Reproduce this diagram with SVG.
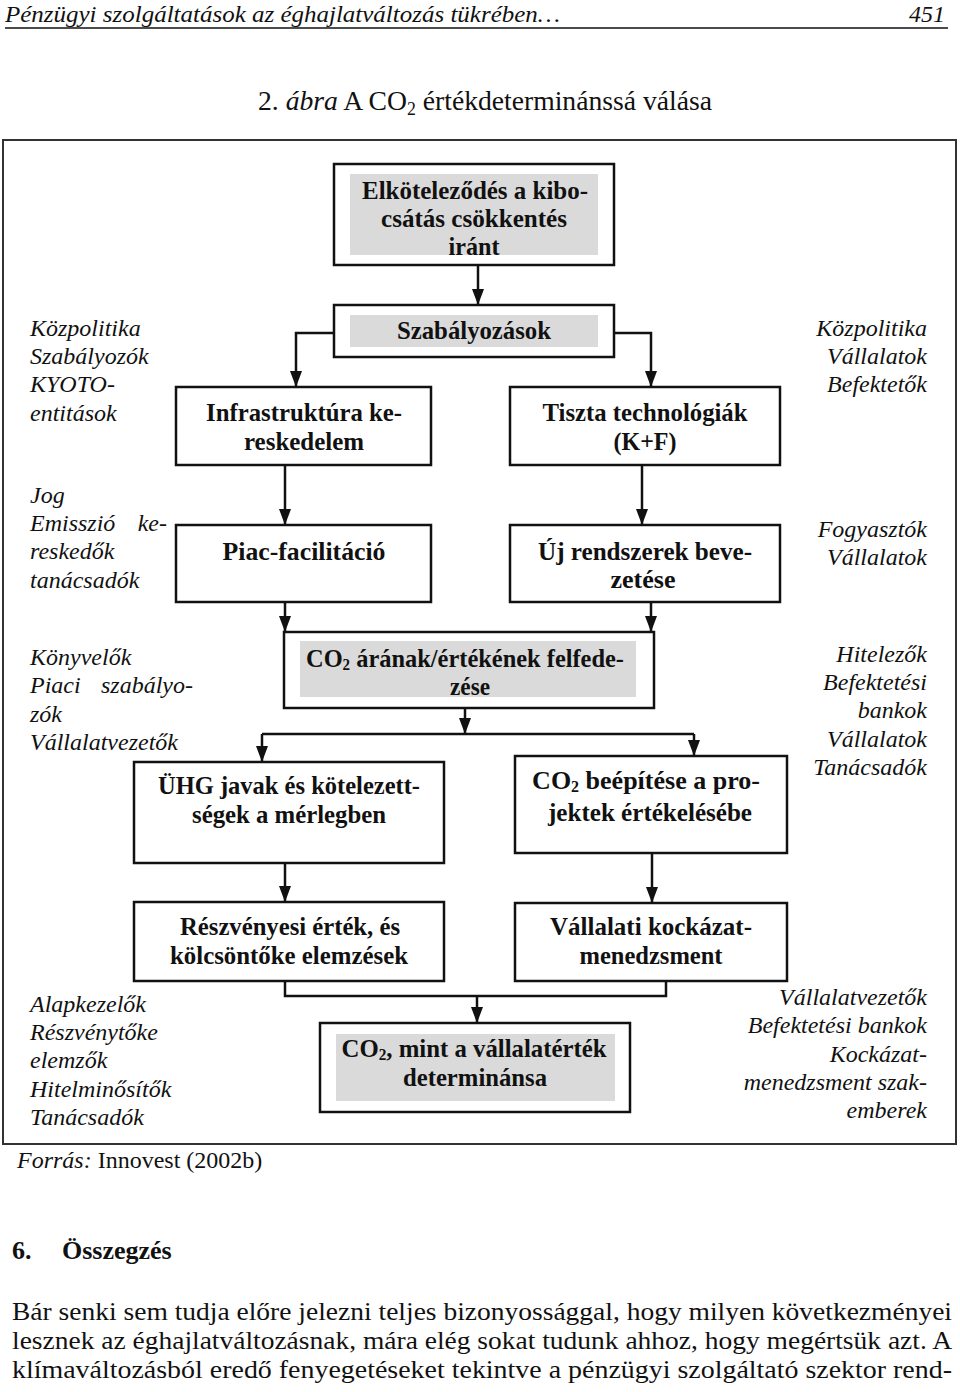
<svg xmlns="http://www.w3.org/2000/svg" width="960" height="1392" viewBox="0 0 960 1392">
<style>
.page{font-family:"Liberation Serif","Times New Roman",serif;fill:#111}
.box{fill:#fff;stroke:#111;stroke-width:2.5}
.gray{fill:#dadada;stroke:none}
.bt{font-family:"Liberation Serif","Times New Roman",serif;font-weight:bold;font-size:26px;fill:#111;text-anchor:middle}
.side{font-family:"Liberation Serif","Times New Roman",serif;font-style:italic;font-size:24px;fill:#111}
.r{text-anchor:end}
.con{fill:none;stroke:#111;stroke-width:2.5}
.sub{font-size:16px}
</style>
<defs>
<marker id="ah" viewBox="0 0 16 12" markerWidth="16" markerHeight="12" refX="16" refY="6" orient="auto" markerUnits="userSpaceOnUse">
<path d="M0,0 L16,6 L0,12 z" fill="#111"/>
</marker>
</defs>
<rect width="960" height="1392" fill="#fff"/>
<g id="header" class="page">
<text x="5" y="22" font-style="italic" font-size="24" textLength="555" lengthAdjust="spacingAndGlyphs">Pénzügyi szolgáltatások az éghajlatváltozás tükrében…</text>
<text x="945" y="22" font-style="italic" font-size="24" text-anchor="end" textLength="36" lengthAdjust="spacingAndGlyphs">451</text>
<line x1="5" y1="28" x2="948" y2="28" stroke="#111" stroke-width="1.5"/>
<text x="258" y="110" font-size="28" textLength="454" lengthAdjust="spacingAndGlyphs">2. <tspan font-style="italic">ábra</tspan> A CO<tspan font-size="18" dy="5">2</tspan><tspan dy="-5"> értékdeterminánssá válása</tspan></text>
</g>
<rect id="frame" x="3" y="140" width="953" height="1004" fill="none" stroke="#333" stroke-width="2"/>
<g id="connectors">
<path class="con" d="M478,265 V305" marker-end="url(#ah)"/>
<path class="con" d="M334,333 H296 V387" marker-end="url(#ah)"/>
<path class="con" d="M614,333 H651 V387" marker-end="url(#ah)"/>
<path class="con" d="M285,465 V525" marker-end="url(#ah)"/>
<path class="con" d="M642,465 V525" marker-end="url(#ah)"/>
<path class="con" d="M285,602 V632" marker-end="url(#ah)"/>
<path class="con" d="M651,602 V632" marker-end="url(#ah)"/>
<path class="con" d="M465,708 V734" marker-end="url(#ah)"/>
<path class="con" d="M262,734 H694"/>
<path class="con" d="M262,734 V762" marker-end="url(#ah)"/>
<path class="con" d="M694,734 V756" marker-end="url(#ah)"/>
<path class="con" d="M285,863 V902" marker-end="url(#ah)"/>
<path class="con" d="M652,853 V903" marker-end="url(#ah)"/>
<path class="con" d="M285,981 V996 H666 V981"/>
<path class="con" d="M477,996 V1023" marker-end="url(#ah)"/>
</g>
<g id="n-elkotelezodes">
<rect class="box" x="334" y="164" width="280" height="101"/>
<rect class="gray" x="350" y="174" width="248" height="81"/>
<text class="bt" x="475" y="199" textLength="226" lengthAdjust="spacingAndGlyphs">Elköteleződés a kibo-</text>
<text class="bt" x="474" y="227" textLength="186" lengthAdjust="spacingAndGlyphs">csátás csökkentés</text>
<text class="bt" x="474" y="255" textLength="51" lengthAdjust="spacingAndGlyphs">iránt</text>
</g>
<g id="n-szabalyozasok">
<rect class="box" x="334" y="305" width="280" height="52"/>
<rect class="gray" x="350" y="315" width="248" height="32"/>
<text class="bt" x="474" y="339" textLength="154" lengthAdjust="spacingAndGlyphs">Szabályozások</text>
</g>
<g id="n-infra">
<rect class="box" x="176" y="387" width="255" height="78"/>
<text class="bt" x="304" y="421" textLength="196" lengthAdjust="spacingAndGlyphs">Infrastruktúra ke-</text>
<text class="bt" x="304" y="450" textLength="120" lengthAdjust="spacingAndGlyphs">reskedelem</text>
</g>
<g id="n-tiszta">
<rect class="box" x="510" y="387" width="270" height="78"/>
<text class="bt" x="645" y="421" textLength="205" lengthAdjust="spacingAndGlyphs">Tiszta technológiák</text>
<text class="bt" x="645" y="450" textLength="63" lengthAdjust="spacingAndGlyphs">(K+F)</text>
</g>
<g id="n-piac">
<rect class="box" x="176" y="525" width="255" height="77"/>
<text class="bt" x="304" y="560" textLength="163" lengthAdjust="spacingAndGlyphs">Piac-facilitáció</text>
</g>
<g id="n-uj">
<rect class="box" x="510" y="525" width="270" height="77"/>
<text class="bt" x="645" y="560" textLength="214" lengthAdjust="spacingAndGlyphs">Új rendszerek beve-</text>
<text class="bt" x="643" y="588" textLength="65" lengthAdjust="spacingAndGlyphs">zetése</text>
</g>
<g id="n-co2ar">
<rect class="box" x="284" y="632" width="370" height="76"/>
<rect class="gray" x="300" y="641" width="336" height="56"/>
<text class="bt" x="465" y="667" textLength="318" lengthAdjust="spacingAndGlyphs">CO<tspan class="sub" dy="3">2</tspan><tspan dy="-3"> árának/értékének felfede-</tspan></text>
<text class="bt" x="470" y="695" textLength="40" lengthAdjust="spacingAndGlyphs">zése</text>
</g>
<g id="n-uhg">
<rect class="box" x="134" y="762" width="310" height="101"/>
<text class="bt" x="289" y="794" textLength="262" lengthAdjust="spacingAndGlyphs">ÜHG javak és kötelezett-</text>
<text class="bt" x="289" y="823" textLength="194" lengthAdjust="spacingAndGlyphs">ségek a mérlegben</text>
</g>
<g id="n-co2be">
<rect class="box" x="515" y="756" width="272" height="97"/>
<text class="bt" x="646" y="789" font-size="24.5">CO<tspan class="sub" dy="3">2</tspan><tspan dy="-3"> beépítése a pro-</tspan></text>
<text class="bt" x="650" y="821" textLength="204" lengthAdjust="spacingAndGlyphs">jektek értékelésébe</text>
</g>
<g id="n-reszv">
<rect class="box" x="134" y="902" width="310" height="79"/>
<text class="bt" x="290" y="935" textLength="220" lengthAdjust="spacingAndGlyphs">Részvényesi érték, és</text>
<text class="bt" x="289" y="964" textLength="238" lengthAdjust="spacingAndGlyphs">kölcsöntőke elemzések</text>
</g>
<g id="n-vall">
<rect class="box" x="515" y="903" width="272" height="78"/>
<text class="bt" x="651" y="935" textLength="202" lengthAdjust="spacingAndGlyphs">Vállalati kockázat-</text>
<text class="bt" x="651" y="964" textLength="143" lengthAdjust="spacingAndGlyphs">menedzsment</text>
</g>
<g id="n-co2mint">
<rect class="box" x="320" y="1023" width="310" height="89"/>
<rect class="gray" x="336" y="1034" width="279" height="67"/>
<text class="bt" x="474" y="1057" textLength="265" lengthAdjust="spacingAndGlyphs">CO<tspan class="sub" dy="3">2</tspan><tspan dy="-3">, mint a vállalatérték</tspan></text>
<text class="bt" x="475" y="1086" textLength="144" lengthAdjust="spacingAndGlyphs">determinánsa</text>
</g>
<g id="left-labels">
<text class="side" x="30" y="336">Közpolitika</text>
<text class="side" x="30" y="364">Szabályozók</text>
<text class="side" x="30" y="392">KYOTO-</text>
<text class="side" x="30" y="421">entitások</text>
<text class="side" x="30" y="503">Jog</text>
<text class="side" x="30" y="531">Emisszió</text>
<text class="side r" x="167" y="531">ke-</text>
<text class="side" x="30" y="559">reskedők</text>
<text class="side" x="30" y="588">tanácsadók</text>
<text class="side" x="30" y="665">Könyvelők</text>
<text class="side" x="30" y="693">Piaci</text>
<text class="side r" x="193" y="693">szabályo-</text>
<text class="side" x="30" y="722">zók</text>
<text class="side" x="30" y="750">Vállalatvezetők</text>
<text class="side" x="30" y="1012">Alapkezelők</text>
<text class="side" x="30" y="1040">Részvénytőke</text>
<text class="side" x="30" y="1068">elemzők</text>
<text class="side" x="30" y="1097">Hitelminősítők</text>
<text class="side" x="30" y="1125">Tanácsadók</text>
</g>
<g id="right-labels">
<text class="side r" x="927" y="336">Közpolitika</text>
<text class="side r" x="927" y="364">Vállalatok</text>
<text class="side r" x="927" y="392">Befektetők</text>
<text class="side r" x="927" y="537">Fogyasztók</text>
<text class="side r" x="927" y="565">Vállalatok</text>
<text class="side r" x="927" y="662">Hitelezők</text>
<text class="side r" x="927" y="690">Befektetési</text>
<text class="side r" x="927" y="718">bankok</text>
<text class="side r" x="927" y="747">Vállalatok</text>
<text class="side r" x="927" y="775">Tanácsadók</text>
<text class="side r" x="927" y="1005">Vállalatvezetők</text>
<text class="side r" x="927" y="1033">Befektetési bankok</text>
<text class="side r" x="927" y="1062">Kockázat-</text>
<text class="side r" x="927" y="1090">menedzsment szak-</text>
<text class="side r" x="927" y="1118">emberek</text>
</g>
<g id="footer" class="page">
<text x="17" y="1168" font-size="24"><tspan font-style="italic">Forrás:</tspan> Innovest (2002b)</text>
<text x="12" y="1259" font-size="26" font-weight="bold">6.</text>
<text x="62" y="1259" font-size="26" font-weight="bold">Összegzés</text>
<text x="12" y="1320" font-size="26" textLength="940" lengthAdjust="spacingAndGlyphs">Bár senki sem tudja előre jelezni teljes bizonyossággal, hogy milyen következményei</text>
<text x="12" y="1349" font-size="26" textLength="940" lengthAdjust="spacingAndGlyphs">lesznek az éghajlatváltozásnak, mára elég sokat tudunk ahhoz, hogy megértsük azt. A</text>
<text x="12" y="1378" font-size="26" textLength="940" lengthAdjust="spacingAndGlyphs">klímaváltozásból eredő fenyegetéseket tekintve a pénzügyi szolgáltató szektor rend-</text>
</g>
</svg>
